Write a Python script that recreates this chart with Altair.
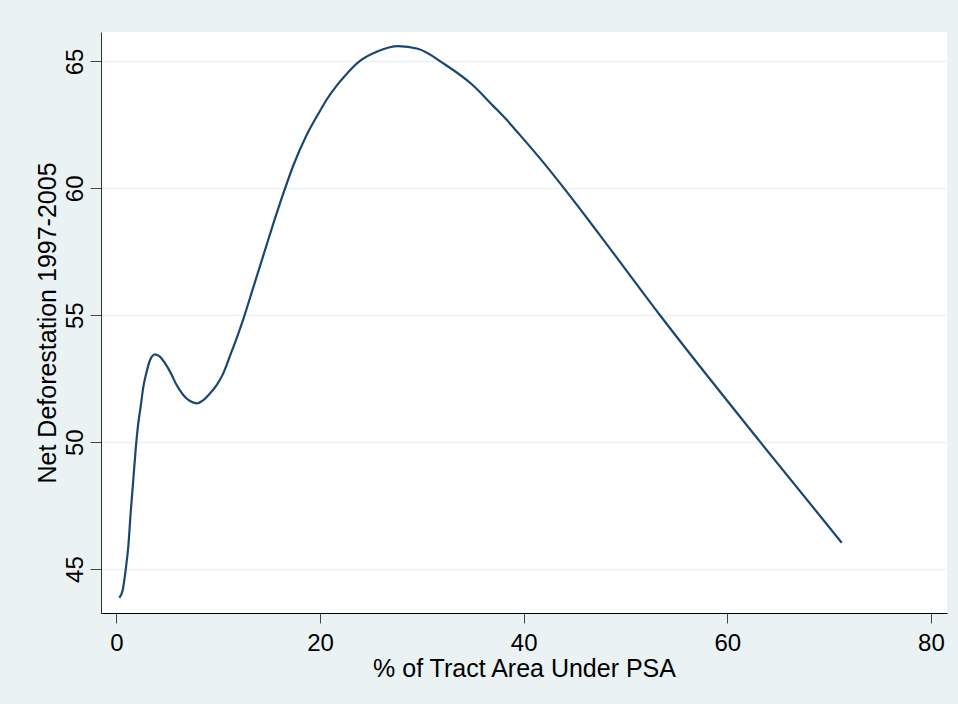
import altair as alt
import pandas as pd

# Fitted net deforestation against share of tract area under PSA
psa_share = [0.28, 0.61, 0.90, 1.16, 1.39, 1.65, 1.88, 2.14, 2.37, 2.64, 2.96, 3.29,
             3.78, 4.27, 4.76, 5.26, 5.91, 6.56, 7.22, 7.88, 8.53, 9.18, 9.84, 10.49,
             11.15, 11.81, 12.46, 13.44, 14.42, 15.40, 16.39, 17.37, 18.68, 19.99, 20.65,
             21.63, 22.28, 23.92, 25.56, 27.7, 29.6, 32.2, 34.9, 37.0, 38.33, 39.31,
             41.60, 44.22, 45.53, 47.50, 53.39, 63.21, 71.24]
net_deforestation = [43.87, 44.17, 44.96, 45.88, 47.19, 48.51, 49.69, 50.74, 51.39, 52.18,
                     52.77, 53.23, 53.46, 53.37, 53.11, 52.78, 52.25, 51.86, 51.62, 51.53,
                     51.66, 51.92, 52.25, 52.71, 53.4, 54.1, 54.85, 56.1, 57.35, 58.6, 59.8,
                     60.9, 62.1, 63.05, 63.5, 64.05, 64.36, 65.02, 65.38, 65.6, 65.5, 64.9,
                     64.1, 63.25, 62.7, 62.25, 61.18, 59.87, 59.19, 58.15, 55.0, 50.02, 46.04]

x_ticks = [0, 20, 40, 60, 80]
y_ticks = [45, 50, 55, 60, 65]

df = pd.DataFrame({"psa": psa_share, "def": net_deforestation})

FONT = "Liberation Sans"

chart = (
    alt.Chart(df)
    .mark_line(color="#1A476F", strokeWidth=2.2, interpolate="monotone")
    .encode(
        x=alt.X(
            "psa:Q",
            scale=alt.Scale(domain=[-1.52, 81.58], nice=False, zero=False),
            axis=alt.Axis(
                title="% of Tract Area Under PSA",
                values=x_ticks,
                grid=False,
                tickSize=10,
                tickColor="#444444",
                domainColor="#000000",
                labelPadding=8,
                titlePadding=1,
                labelFontSize=24,
                titleFontSize=25,
            ),
        ),
        y=alt.Y(
            "def:Q",
            scale=alt.Scale(domain=[43.27, 66.16], nice=False, zero=False),
            axis=alt.Axis(
                title="Net Deforestation 1997-2005",
                values=y_ticks,
                grid=True,
                gridColor="#EAF2F3",
                gridWidth=1.7,
                tickSize=11,
                tickColor="#444444",
                domainColor="#333333",
                labelAngle=270,
                labelAlign="center",
                labelBaseline="alphabetic",
                labelPadding=8,
                titlePadding=3,
                labelFontSize=24,
                titleFontSize=25,
            ),
        ),
    )
    .properties(
        width=846,
        height=581,
        background="#EAF2F3",
        padding={"left": 101, "top": 32, "right": 11, "bottom": 91},
        autosize=alt.AutoSizeParams(type="none"),
    )
    .configure_view(fill="white", stroke=None)
    .configure_axis(
        labelFont=FONT,
        titleFont=FONT,
        labelColor="#000000",
        titleColor="#000000",
        titleFontWeight="normal",
        domainWidth=1,
        tickWidth=1,
    )
)

chart.save("out.html", embed_options={"renderer": "svg", "actions": False})
